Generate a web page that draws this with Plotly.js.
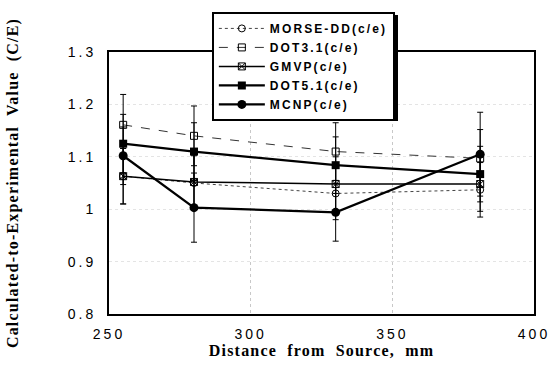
<!DOCTYPE html>
<html>
<head>
<meta charset="utf-8">
<script src="https://cdn.plot.ly/plotly-3.0.1.min.js"></script>
<style>
html,body{margin:0;padding:0;background:#fff;}
#chart{width:557px;height:366px;}
.legendtext{letter-spacing:2.1px;}
.xtick text,.ytick text{letter-spacing:3px;}
.xtitle,.ytitle{letter-spacing:1.2px;word-spacing:5px;}
</style>
</head>
<body>
<div id="chart"></div>
<script>
// Distances (mm)
const distance = [255, 280, 330, 381];

// C/E values
const morseDD = [1.063, 1.050, 1.030, 1.037];
const dot31   = [1.161, 1.140, 1.110, 1.097];
const gmvp    = [1.063, 1.052, 1.048, 1.048];
const dot51   = [1.125, 1.110, 1.084, 1.067];
const mcnp    = [1.102, 1.003, 0.994, 1.105];

// Error bar half-widths
const errMorse = [0.053, 0.052, 0.050, 0.052];
const errDot31 = [0.058, 0.057, 0.055, 0.055];
const errGmvp  = [0.053, 0.053, 0.052, 0.052];
const errDot51 = [0.056, 0.055, 0.054, 0.053];
const errMcnp  = [0.055, 0.066, 0.055, 0.080];

const seriesNames = ['MORSE-DD(c/e)', 'DOT3.1(c/e)', 'GMVP(c/e)', 'DOT5.1(c/e)', 'MCNP(c/e)'];

const xTicks = [250, 300, 350, 400];
const yTicks = [0.8, 0.9, 1, 1.1, 1.2, 1.3];
const yTickText = ['0.8', '0.9', '1', '1.1', '1.2', '1.3'];

function err(arr) {
  return {type: 'data', array: arr, visible: true, color: '#000', thickness: 1, width: 3};
}

const traces = [
  {x: distance, y: morseDD, name: seriesNames[0], mode: 'lines+markers',
   line: {color: '#444', width: 1, dash: 'dot'},
   marker: {symbol: 'circle-open', size: 7, color: '#000', line: {width: 1}},
   error_y: err(errMorse)},
  {x: distance, y: dot31, name: seriesNames[1], mode: 'lines+markers',
   line: {color: '#333', width: 1, dash: 'dash'},
   marker: {symbol: 'square-open', size: 7, color: '#000', line: {width: 1}},
   error_y: err(errDot31)},
  {x: distance, y: gmvp, name: seriesNames[2], mode: 'lines+markers',
   line: {color: '#000', width: 1.5},
   marker: {symbol: 'square-x-open', size: 7, color: '#000', line: {width: 1}},
   error_y: err(errGmvp)},
  {x: distance, y: dot51, name: seriesNames[3], mode: 'lines+markers',
   line: {color: '#000', width: 2.2},
   marker: {symbol: 'square', size: 8, color: '#000'},
   error_y: err(errDot51)},
  {x: distance, y: mcnp, name: seriesNames[4], mode: 'lines+markers',
   line: {color: '#000', width: 2.2},
   marker: {symbol: 'circle', size: 9, color: '#000'},
   error_y: err(errMcnp)}
];

const layout = {
  width: 557, height: 366,
  margin: {l: 109, r: 23, t: 52, b: 52},
  paper_bgcolor: '#fff', plot_bgcolor: '#fff',
  showlegend: true,
  legend: {
    x: 0.242, y: 1.153, xanchor: 'left', yanchor: 'top',
    bgcolor: '#fff', bordercolor: '#000', borderwidth: 2,
    font: {family: 'Liberation Sans, Arial, sans-serif', size: 12, color: '#000', weight: 'bold'},
    tracegroupgap: 0, itemwidth: 46
  },
  shapes: [
    {type: 'rect', xref: 'paper', yref: 'paper', x0: 0.2494, x1: 0.68, y0: 0.7366, y1: 1.141,
     fillcolor: '#000', line: {width: 0}, layer: 'above'}
  ],
  xaxis: {
    range: [250, 400], tickvals: xTicks, ticktext: xTicks.map(String),
    showline: true, linecolor: '#000', linewidth: 2, mirror: true,
    showgrid: true, gridcolor: '#c8c8c8', griddash: 'dot', gridwidth: 1,
    zeroline: false, ticks: '', ticklabelstandoff: 6,
    tickfont: {family: 'Liberation Sans, Arial, sans-serif', size: 14, color: '#000'},
    title: {text: 'Distance from Source, mm', standoff: 3,
      font: {family: 'Liberation Serif, Times New Roman, serif', size: 16, color: '#000', weight: 'bold'}}
  },
  yaxis: {
    range: [0.8, 1.3], tickvals: yTicks, ticktext: yTickText,
    showline: true, linecolor: '#000', linewidth: 2, mirror: true,
    showgrid: true, gridcolor: '#e4e4e4', griddash: 'dot', gridwidth: 1,
    zeroline: false, ticks: '', ticklabelstandoff: 8,
    tickfont: {family: 'Liberation Sans, Arial, sans-serif', size: 14, color: '#000'},
    title: {text: 'Calculated-to-Experimental Value (C/E)', standoff: 45,
      font: {family: 'Liberation Serif, Times New Roman, serif', size: 16, color: '#000', weight: 'bold'}}
  }
};

Plotly.newPlot('chart', traces, layout, {displayModeBar: false, staticPlot: true});
</script>
</body>
</html>
